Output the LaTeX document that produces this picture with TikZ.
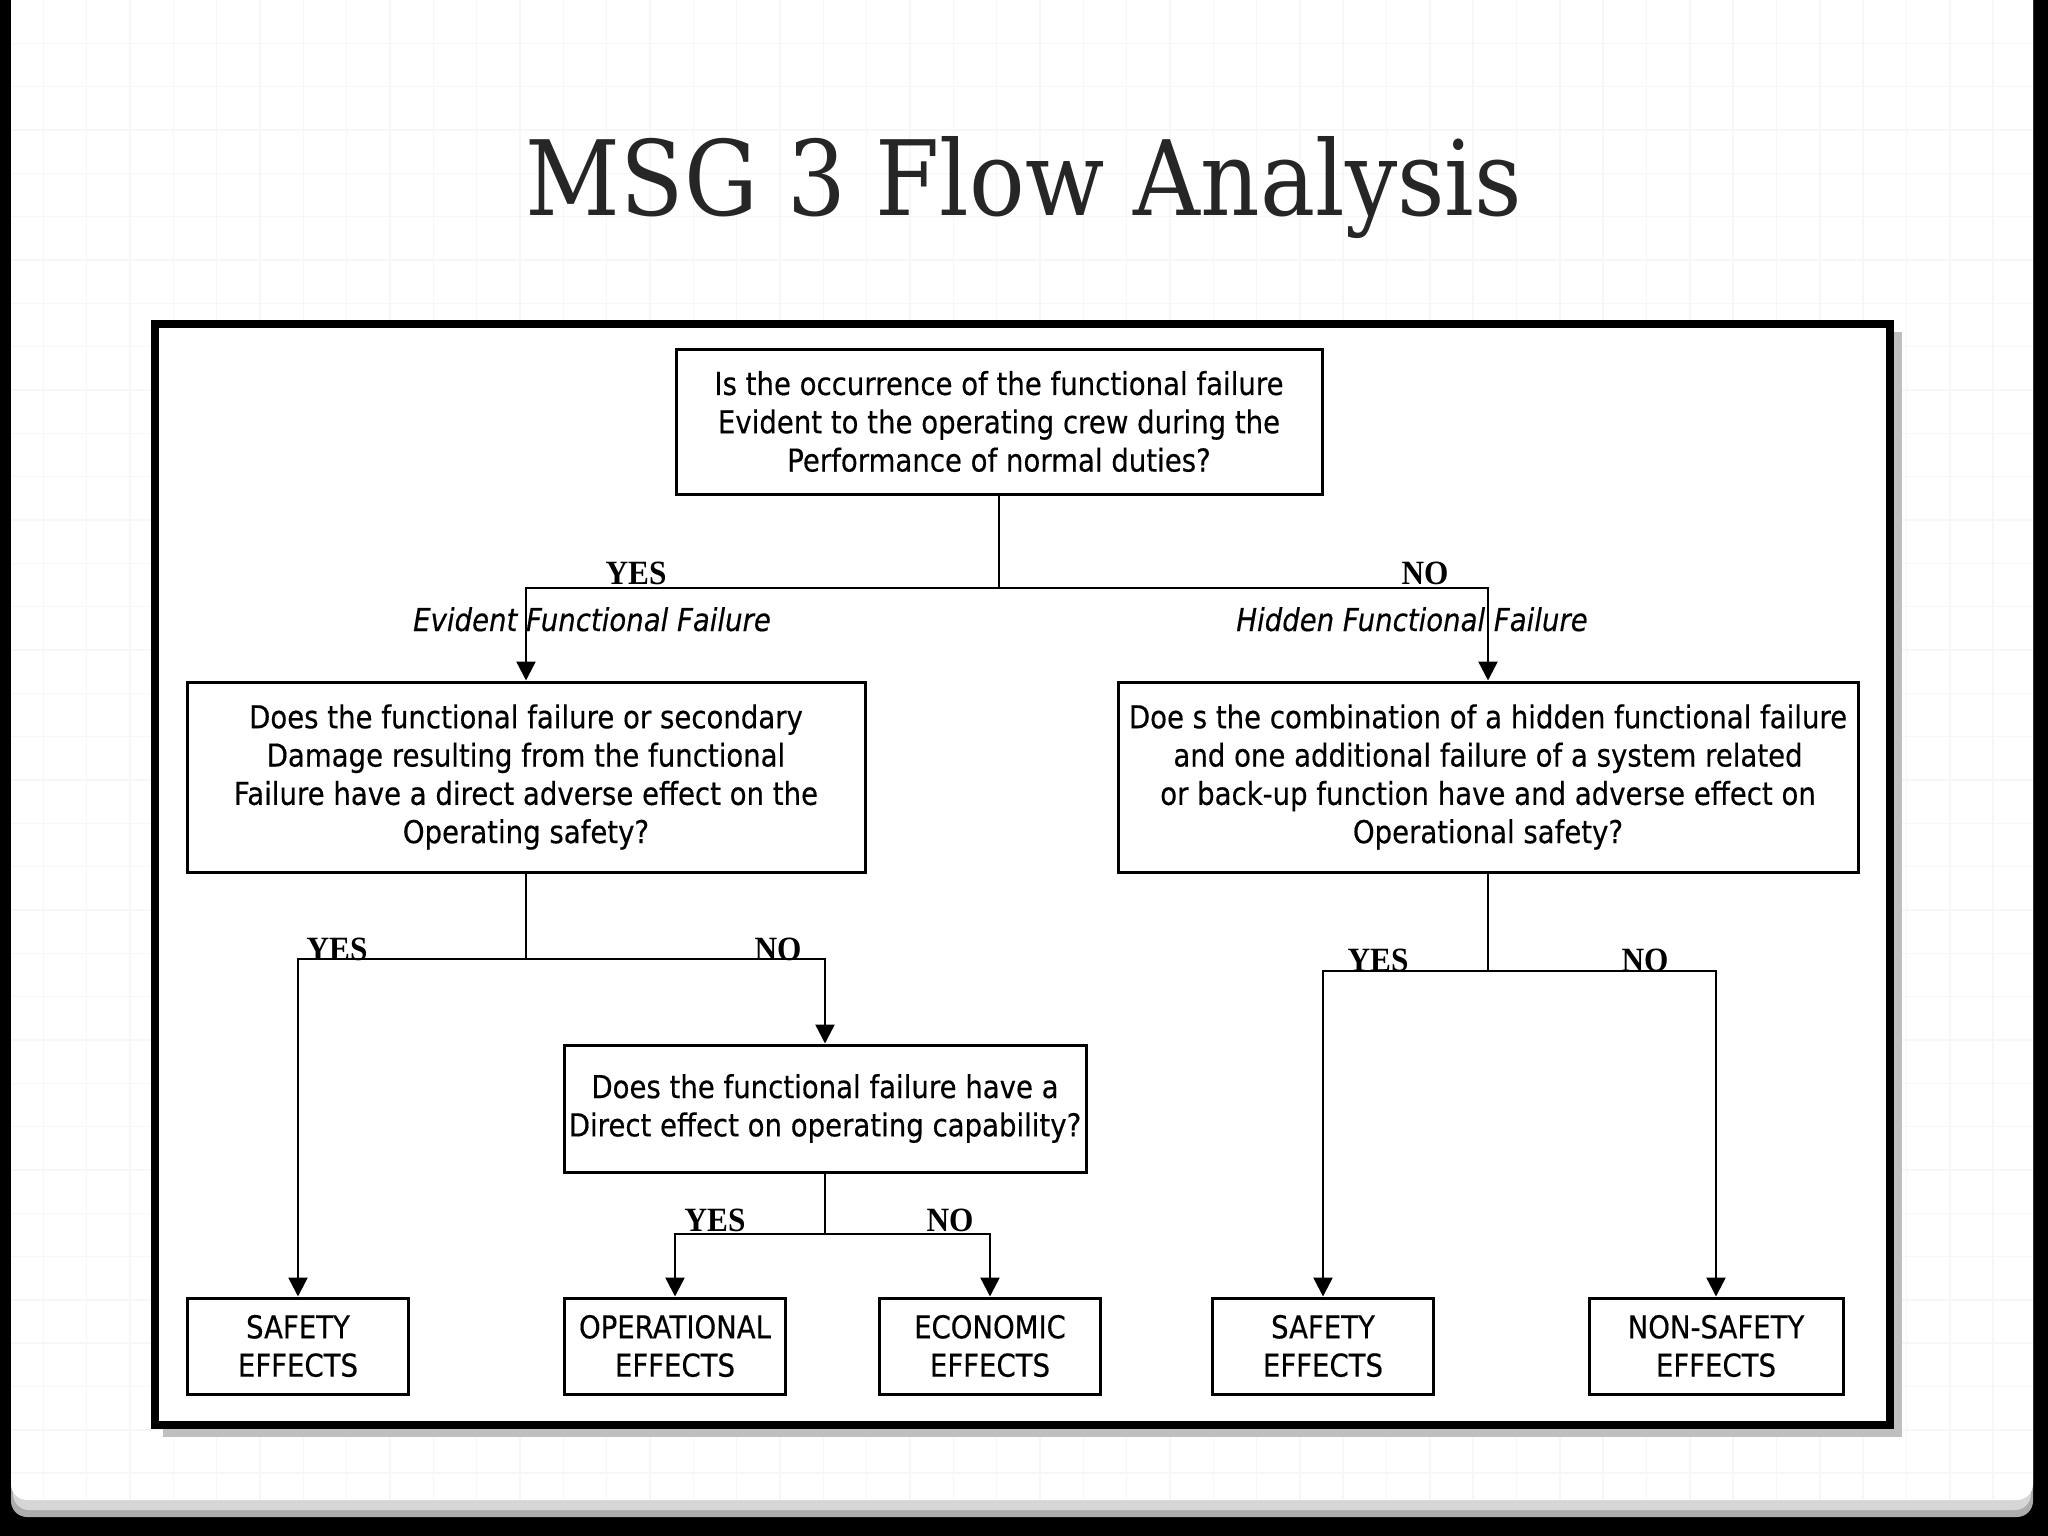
\documentclass[tikz,border=0pt]{standalone}
\usepackage{fontspec}
\usetikzlibrary{arrows.meta}
\newfontfamily\diagfont[FakeStretch=0.875,FakeBold=0.4]{DejaVu Sans}
\newfontfamily\titlefont[FakeStretch=0.89]{DejaVu Serif}
\newfontfamily\ynfont[FakeStretch=0.92]{Liberation Serif}
\definecolor{titlegray}{HTML}{262626}
\definecolor{gridgray}{HTML}{F7F7F7}
\begin{document}
\begin{tikzpicture}[x=1pt,y=-1pt,
  qbox/.style={draw=black, line width=3pt, fill=white, inner sep=0pt, align=center,
    font=\diagfont\fontsize{31.5}{38.3}\selectfont, text=black},
  conn/.style={line width=2.4pt, draw=black},
  arr/.style={-{Triangle[width=19pt,length=19pt]}},
  yn/.style={font=\ynfont\bfseries\fontsize{34}{34}\selectfont, anchor=base, inner sep=0pt},
  ff/.style={font=\diagfont\itshape\fontsize{31.5}{38.3}\selectfont, anchor=base, inner sep=0pt}
]
\useasboundingbox (0,0) rectangle (2048,1536);
% slide background
\fill[black] (0,0) rectangle (2048,1536);
\fill[black!32, rounded corners=16pt] (11,-30) rectangle (2033,1517);
\fill[black!16, rounded corners=16pt] (13,-30) rectangle (2031,1510);
\fill[white, rounded corners=16pt] (11,-30) rectangle (2033,1500);
\begin{scope}
  \clip[rounded corners=16pt] (11,-30) rectangle (2033,1500);
  \foreach \i in {1,...,47} {\draw[gridgray, line width=1.5pt] (\i*43.33,0) -- (\i*43.33,1500);}
  \foreach \j in {1,...,34} {\draw[gridgray, line width=1.5pt] (11,\j*43.33) -- (2033,\j*43.33);}
\end{scope}
% title
\node[font=\titlefont\fontsize{104}{104}\selectfont, text=titlegray, anchor=base, inner sep=0pt] (title) at (1024,215) {MSG 3 Flow Analysis};
% diagram frame
\fill[black!25] (163,332) rectangle (1902,1437);
\draw[line width=8pt, fill=white] (155,324) rectangle (1890,1425);
% boxes
\node[qbox, minimum width=646pt, minimum height=145pt] (top) at (999,421.5) {Is the occurrence of the functional failure\\Evident to the operating crew during the\\Performance of normal duties?};
\node[qbox, minimum width=678pt, minimum height=190pt] (L) at (526,777) {Does the functional failure or secondary\\Damage resulting from the functional\\Failure have a direct adverse effect on the\\Operating safety?};
\node[qbox, minimum width=740pt, minimum height=190pt] (R) at (1488,777) {Doe s the combination of a hidden functional failure\\and one additional failure of a system related\\or back-up function have and adverse effect on\\Operational safety?};
\node[qbox, minimum width=522pt, minimum height=127pt] (M) at (825,1108.5) {Does the functional failure have a\\Direct effect on operating capability?};
\node[qbox, minimum width=221pt, minimum height=96pt] (S1) at (298,1346) {SAFETY\\EFFECTS};
\node[qbox, minimum width=221pt, minimum height=96pt] (OP) at (675,1346) {OPERATIONAL\\EFFECTS};
\node[qbox, minimum width=221pt, minimum height=96pt] (EC) at (990,1346) {ECONOMIC\\EFFECTS};
\node[qbox, minimum width=221pt, minimum height=96pt] (S2) at (1323,1346) {SAFETY\\EFFECTS};
\node[qbox, minimum width=254pt, minimum height=96pt] (NS) at (1716,1346) {NON-SAFETY\\EFFECTS};
% labels
\node[yn] (yes1) at (636,584) {YES};
\node[yn] (no1) at (1425,584) {NO};
\node[ff] (eff) at (592,631) {Evident Functional Failure};
\node[ff] (hff) at (1412,631) {Hidden Functional Failure};
\node[yn] (yes2) at (337,960) {YES};
\node[yn] (no2) at (778,960) {NO};
\node[yn] (yes3) at (715,1231) {YES};
\node[yn] (no3) at (950,1231) {NO};
\node[yn] (yes4) at (1378,971) {YES};
\node[yn] (no4) at (1645,971) {NO};
% connectors
\coordinate (jt) at (999,588);
\draw[conn] (top.south) -- (jt);
\draw[conn,arr] (jt) -| (L.north);
\draw[conn,arr] (jt) -| (R.north);
\coordinate (jl) at (526,959);
\draw[conn] (L.south) -- (jl);
\draw[conn,arr] (jl) -| (S1.north);
\draw[conn,arr] (jl) -| (M.north);
\coordinate (jm) at (825,1234);
\draw[conn] (M.south) -- (jm);
\draw[conn,arr] (jm) -| (OP.north);
\draw[conn,arr] (jm) -| (EC.north);
\coordinate (jr) at (1488,971);
\draw[conn] (R.south) -- (jr);
\draw[conn,arr] (jr) -| (S2.north);
\draw[conn,arr] (jr) -| (NS.north);
\end{tikzpicture}
\end{document}
